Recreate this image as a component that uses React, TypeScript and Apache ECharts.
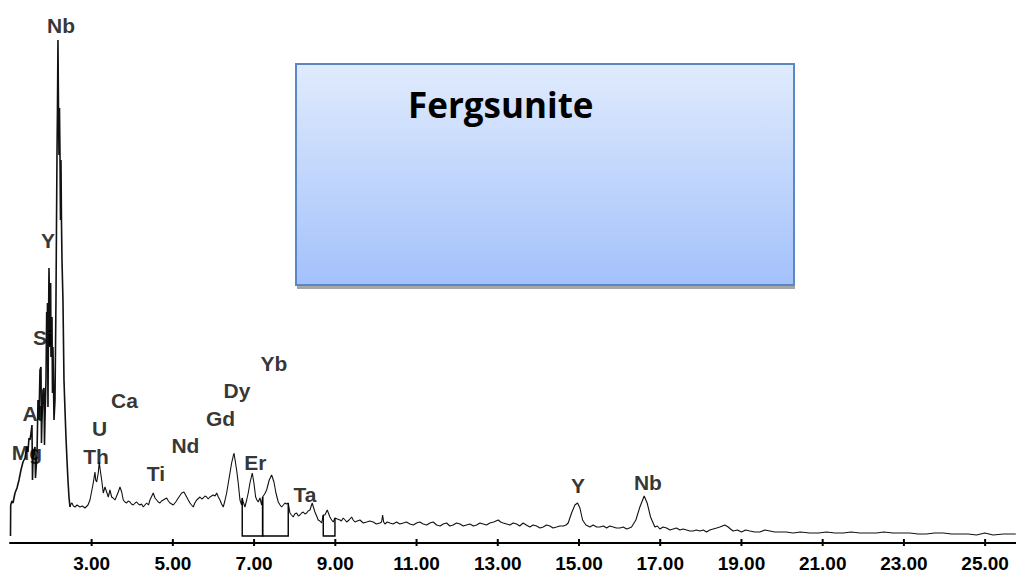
import React, { useEffect, useRef } from "react";
import * as echarts from "echarts";

// EDS spectrum: [energy keV, counts]
const spectrumMajor: number[][] = [
  [1.002, 0], [1.007, 310], [1.039, 350], [1.064, 330], [1.113, 430], [1.162, 480], [1.211, 560],
  [1.26, 660], [1.31, 740], [1.359, 780], [1.408, 890], [1.433, 840], [1.457, 980], [1.482, 960],
  [1.507, 1030], [1.531, 1110], [1.544, 560], [1.556, 760], [1.58, 860], [1.605, 890], [1.617, 580],
  [1.63, 660], [1.654, 810], [1.679, 1360], [1.704, 1160], [1.728, 1660], [1.753, 1690], [1.765, 930],
  [1.777, 1160], [1.802, 1460], [1.827, 1480], [1.839, 910], [1.851, 1160], [1.876, 1560], [1.893, 2240],
  [1.901, 1890], [1.913, 2330], [1.925, 1290], [1.937, 2060], [1.95, 2680], [1.962, 2360], [1.974, 1890],
  [1.991, 2530], [1.999, 1790], [2.024, 2190], [2.036, 1430], [2.048, 1890], [2.073, 1160], [2.098, 1360],
  [2.122, 2360], [2.147, 3810], [2.159, 4280], [2.171, 4960], [2.184, 4280], [2.196, 3810], [2.208, 4280],
  [2.221, 3810], [2.233, 3160], [2.245, 3760], [2.257, 3160], [2.27, 2760], [2.294, 2360], [2.319, 1560],
  [2.344, 1260], [2.368, 990], [2.393, 760], [2.417, 560], [2.442, 390], [2.467, 290],
];

const spectrumMid: number[][] = [
  [2.49, 320], [2.516, 330], [2.55, 300], [2.59, 290], [2.64, 310], [2.713, 290], [2.77, 300], [2.836, 280],
  [2.91, 310], [2.959, 360], [3.04, 530], [3.082, 640], [3.1, 560], [3.124, 540], [3.163, 630], [3.188, 740],
  [3.205, 680], [3.247, 560], [3.287, 430], [3.328, 490], [3.37, 440], [3.41, 390], [3.451, 460], [3.493, 390],
  [3.53, 380], [3.575, 360], [3.656, 440], [3.698, 490], [3.74, 440], [3.779, 360], [3.82, 340], [3.863, 330],
  [3.9, 350], [3.944, 340], [3.98, 320], [4.025, 310], [4.07, 330], [4.109, 340], [4.15, 320], [4.19, 310],
  [4.23, 320], [4.271, 290], [4.31, 310], [4.355, 330], [4.4, 310], [4.436, 360], [4.517, 430], [4.56, 380],
  [4.601, 360], [4.64, 340], [4.682, 330], [4.72, 350], [4.764, 360], [4.847, 380], [4.89, 350], [4.929, 330],
  [4.97, 320], [5.01, 310], [5.07, 340], [5.133, 380], [5.217, 430], [5.273, 440], [5.34, 390], [5.38, 360],
  [5.421, 330], [5.46, 310], [5.502, 290], [5.54, 330], [5.586, 360], [5.667, 390], [5.71, 370], [5.748, 380],
  [5.79, 400], [5.832, 390], [5.87, 370], [5.913, 390], [5.994, 410], [6.04, 400], [6.078, 430], [6.12, 390],
  [6.16, 360], [6.2, 320], [6.241, 290], [6.28, 350], [6.324, 430], [6.406, 630], [6.447, 730], [6.504, 830],
  [6.54, 740], [6.57, 660], [6.61, 530], [6.652, 360], [6.694, 310], [6.708, 380], [6.733, 340], [6.775, 290],
  [6.817, 360], [6.856, 430], [6.898, 530], [6.955, 630], [6.996, 530], [7.038, 390], [7.07, 360], [7.102, 340],
  [7.144, 380], [7.186, 310], [7.21, 390], [7.225, 390], [7.26, 420], [7.309, 460], [7.373, 560], [7.432, 610],
  [7.489, 540], [7.538, 430], [7.595, 340], [7.64, 310], [7.678, 290], [7.72, 310], [7.76, 330], [7.8, 320],
  [7.841, 330], [7.883, 230], [7.92, 210], [7.964, 190], [8.0, 220], [8.047, 230], [8.09, 200], [8.129, 210],
  [8.17, 230], [8.21, 240], [8.25, 220], [8.294, 230], [8.33, 250], [8.375, 260], [8.432, 330], [8.46, 290],
  [8.498, 240], [8.54, 200], [8.579, 160], [8.62, 150], [8.663, 130], [8.703, 210], [8.744, 210], [8.801, 260],
  [8.83, 230], [8.867, 190], [8.91, 160], [8.949, 140], [8.991, 180], [9.05, 170], [9.114, 160],
];

const spectrumHigh: number[][] = [
  [9.15, 150], [9.195, 180], [9.24, 160], [9.279, 140], [9.34, 160], [9.402, 190], [9.44, 160], [9.483, 140],
  [9.54, 150], [9.606, 160], [9.69, 130], [9.771, 140], [9.85, 150], [9.933, 140], [10.01, 120], [10.098, 130],
  [10.14, 140], [10.165, 210], [10.19, 140], [10.221, 120], [10.28, 140], [10.344, 130], [10.42, 120],
  [10.509, 140], [10.59, 120], [10.672, 130], [10.75, 140], [10.837, 120], [10.92, 110], [11.002, 130],
  [11.08, 140], [11.164, 120], [11.25, 110], [11.329, 130], [11.41, 140], [11.494, 110], [11.58, 100],
  [11.656, 120], [11.74, 130], [11.821, 100], [11.9, 110], [11.986, 130], [12.07, 120], [12.149, 100],
  [12.23, 110], [12.314, 120], [12.4, 100], [12.479, 110], [12.56, 130], [12.641, 120], [12.72, 110],
  [12.806, 130], [12.9, 140], [13.011, 160], [13.07, 140], [13.134, 130], [13.22, 120], [13.299, 110],
  [13.38, 130], [13.463, 120], [13.54, 100], [13.626, 130], [13.7, 110], [13.791, 90], [13.87, 110],
  [13.956, 100], [14.04, 80], [14.118, 90], [14.2, 110], [14.283, 100], [14.36, 80], [14.448, 90], [14.53, 100],
  [14.611, 100], [14.68, 110], [14.734, 130], [14.817, 230], [14.899, 310], [14.965, 330], [15.022, 280],
  [15.088, 160], [15.17, 110], [15.22, 100], [15.268, 90], [15.35, 110], [15.433, 90], [15.514, 90],
  [15.6, 100], [15.679, 80], [15.76, 100], [15.842, 90], [15.92, 80], [16.007, 80], [16.09, 90], [16.171, 70],
  [16.24, 80], [16.294, 90], [16.4, 160], [16.499, 290], [16.605, 400], [16.678, 330], [16.762, 190],
  [16.868, 90], [16.93, 100], [16.991, 70], [17.07, 90], [17.156, 80], [17.24, 60], [17.319, 70], [17.4, 80],
  [17.484, 60], [17.56, 70], [17.648, 60], [17.73, 50], [17.811, 50], [17.89, 60], [17.976, 50], [18.06, 60],
  [18.141, 40], [18.22, 60], [18.304, 70], [18.39, 80], [18.468, 90], [18.591, 110], [18.673, 90], [18.73, 70],
  [18.796, 50], [18.9, 60], [19.003, 40], [19.1, 60], [19.207, 50], [19.33, 40], [19.453, 40], [19.58, 60],
  [19.699, 50], [19.82, 40], [19.946, 40], [20.1, 40], [20.273, 30], [20.45, 40], [20.684, 30], [20.9, 30],
  [21.095, 40], [21.3, 30], [21.504, 30], [21.7, 40], [21.915, 30], [22.1, 30], [22.326, 30], [22.5, 40],
  [22.735, 30], [22.95, 30], [23.146, 30], [23.35, 20], [23.557, 20], [23.75, 30], [23.966, 30], [24.17, 20],
  [24.377, 20], [24.58, 20], [24.788, 10], [24.992, 30], [25.197, 10], [25.45, 20], [25.755, 20],
];

// Regions of interest (energy bounds) and the spectrum height at each bound
const roiStartKeV = [6.708, 7.21, 8.703];
const roiEndKeV = [7.21, 7.841, 8.991];
const roiStartCounts = [380, 390, 210];
const roiEndCounts = [390, 330, 180];

// Peak labels
const peakNames = ["Nb", "Y", "Si", "Al", "Mg", "U", "Th", "Ca", "Ti", "Nd", "Gd", "Dy", "Yb", "Er", "Ta", "Y", "Nb"];
const peakKeV = [2.245, 1.925, 1.802, 1.556, 1.408, 3.193, 3.107, 3.808, 4.584, 5.31, 6.172, 6.578, 7.489, 7.033, 8.252, 14.973, 16.696];
const peakCounts = [5110, 2960, 1990, 1230, 840, 1080, 800, 1360, 630, 910, 1180, 1460, 1730, 740, 420, 510, 540];

const tickValues = [3, 5, 7, 9, 11, 13, 15, 17, 19, 21, 23, 25];

const App: React.FC = () => {
  const ref = useRef<HTMLDivElement>(null);
  useEffect(() => {
    if (!ref.current) return;
    const chart = echarts.init(ref.current, undefined, { renderer: "svg" });
    const restOfSpectrum = [...spectrumMajor.slice(-1), ...spectrumMid, ...spectrumHigh];
    const roiData = roiStartKeV.map((s, i) => [s, roiEndKeV[i], roiStartCounts[i], roiEndCounts[i]]);
    const labelFont = {
      fontFamily: "'Liberation Sans', Arial, sans-serif",
      fontWeight: "bold" as const,
      fontSize: 21,
      color: "#000",
      textBorderWidth: 0,
    };
    chart.setOption({
      animation: false,
      backgroundColor: "#fff",
      grid: { left: 10, right: 0, top: 0, bottom: 34, containLabel: false },
      xAxis: {
        type: "value",
        min: 0.99,
        max: 25.76,
        position: "bottom",
        axisLine: { show: true, onZero: false, lineStyle: { color: "#000", width: 2 } },
        axisTick: { show: false },
        axisLabel: {
          show: true,
          customValues: tickValues,
          formatter: (v: number) => v.toFixed(2),
          margin: 11,
          fontFamily: "'Liberation Sans', Arial, sans-serif",
          fontWeight: "bold",
          fontSize: 19,
          color: "#000",
        },
        splitLine: { show: false },
      },
      yAxis: { type: "value", min: -70, max: 5360, show: false, splitLine: { show: false } },
      graphic: [
        { type: "rect", shape: { x: 297, y: 68, width: 498, height: 221 }, style: { fill: "#a6a6a6" }, z: 10 },
        {
          type: "rect",
          shape: { x: 296, y: 64, width: 498, height: 221 },
          style: {
            fill: new echarts.graphic.LinearGradient(0, 0, 0, 1, [
              { offset: 0, color: "#e0ebfd" },
              { offset: 1, color: "#a3c1fb" },
            ]),
            stroke: "#5a87c6",
            lineWidth: 2,
          },
          z: 11,
        },
        {
          type: "text",
          x: 408,
          y: 104,
          style: {
            text: "Fergsunite",
            fontFamily: "'Open Sans', sans-serif",
            fontWeight: "bold",
            fontSize: 35,
            fill: "#000",
            verticalAlign: "middle",
            align: "left",
          },
          z: 12,
        },
      ],
      series: [
        {
          type: "line",
          data: spectrumMajor,
          showSymbol: false,
          symbol: "none",
          lineStyle: { color: "#111", width: 1.6 },
          z: 2,
        },
        {
          type: "line",
          data: restOfSpectrum,
          showSymbol: false,
          symbol: "none",
          lineStyle: { color: "#111", width: 1.1 },
          z: 2,
        },
        {
          type: "custom",
          data: roiData,
          z: 3,
          clip: false,
          renderItem: (params: any, api: any) => {
            const s = api.value(0);
            const e = api.value(1);
            const p1 = api.coord([s, api.value(2)]);
            const p2 = api.coord([s, 0]);
            const p3 = api.coord([e, 0]);
            const p4 = api.coord([e, api.value(3)]);
            return {
              type: "polyline",
              shape: { points: [p1, p2, p3, p4] },
              style: { stroke: "#000", fill: "none", lineWidth: 1.4 },
            };
          },
        },
        {
          type: "custom",
          data: tickValues.map((v) => [v]),
          z: 4,
          clip: false,
          renderItem: (params: any, api: any) => {
            const p = api.coord([api.value(0), -70]);
            return {
              type: "line",
              shape: { x1: p[0], y1: p[1] - 4, x2: p[0], y2: p[1] + 3 },
              style: { stroke: "#000", lineWidth: 2 },
            };
          },
        },
        {
          type: "scatter",
          data: peakNames.map((n, i) => ({ name: n, value: [peakKeV[i], peakCounts[i]] })),
          symbolSize: 1,
          itemStyle: { color: "rgba(0,0,0,0)" },
          label: {
            show: true,
            position: "inside",
            formatter: (p: any) => p.name,
            ...labelFont,
          },
          z: 5,
        },
      ],
    });
    return () => chart.dispose();
  }, []);
  return <div ref={ref} style={{ position: "fixed", left: 0, top: 0, width: 1016, height: 577 }} />;
};

export default App;
